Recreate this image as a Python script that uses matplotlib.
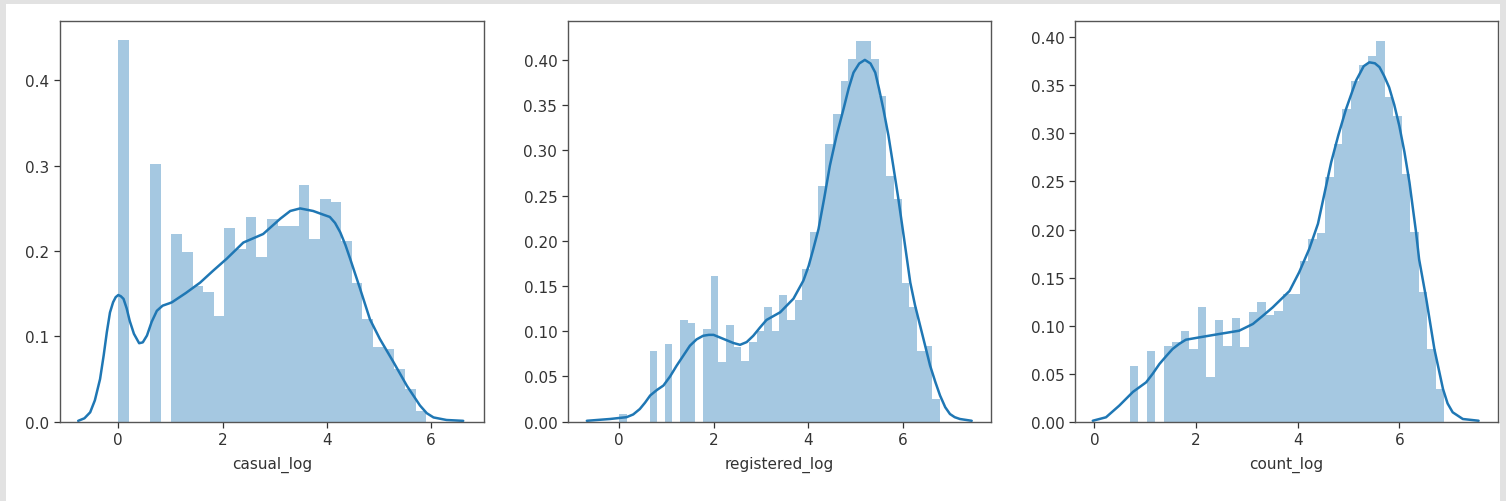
import numpy as np
import matplotlib
matplotlib.use("Agg")
import matplotlib.pyplot as plt
from matplotlib.patches import Rectangle

# ---- histogram densities (one value per bin) ----
casual_range = (0.0, 5.908)
casual_hist = [0.447, 0.0, 0.0, 0.302, 0.0, 0.220, 0.199, 0.159, 0.152, 0.124,
               0.227, 0.2025, 0.240, 0.193, 0.238, 0.229, 0.229, 0.277, 0.214, 0.261,
               0.257, 0.212, 0.163, 0.120, 0.087, 0.085, 0.062, 0.038, 0.012]

registered_range = (0.0, 6.787)
registered_hist = [0.0085, 0.0, 0.0, 0.0, 0.078, 0.0, 0.086, 0.0, 0.1125, 0.109,
                   0.0, 0.1025, 0.1615, 0.066, 0.107, 0.083, 0.0675, 0.088, 0.100, 0.1266,
                   0.100, 0.140, 0.112, 0.135, 0.169, 0.210, 0.261, 0.307, 0.340, 0.377,
                   0.401, 0.421, 0.421, 0.401, 0.3606, 0.272, 0.2463, 0.153, 0.127, 0.0785,
                   0.084, 0.025]

count_range = (0.693, 6.886)
count_hist = [0.0583, 0.0, 0.0733, 0.0, 0.079, 0.0833, 0.094, 0.0757, 0.119, 0.047,
              0.1058, 0.079, 0.108, 0.0774, 0.1138, 0.1249, 0.1113, 0.1155, 0.133, 0.133,
              0.1668, 0.190, 0.196, 0.2543, 0.289, 0.325, 0.355, 0.371, 0.381, 0.3965,
              0.338, 0.318, 0.258, 0.197, 0.1347, 0.0757, 0.034]

# ---- kernel density curves ----
casual_kde_x = [-0.77, -0.65, -0.54, -0.45, -0.35, -0.28, -0.22, -0.16, -0.10, -0.05,
                0.0, 0.05, 0.10, 0.16, 0.22, 0.30, 0.40, 0.47, 0.55, 0.64,
                0.74, 0.85, 0.99, 1.03, 1.30, 1.57, 1.82, 2.08, 2.40, 2.78,
                3.11, 3.30, 3.49, 3.74, 3.92, 4.06, 4.16, 4.26, 4.36, 4.45,
                4.64, 4.83, 5.02, 5.28, 5.54, 5.79, 5.92, 6.05, 6.30, 6.62]
casual_kde_y = [0.001, 0.004, 0.011, 0.025, 0.050, 0.078, 0.105, 0.128, 0.140, 0.146,
                0.1485, 0.147, 0.144, 0.133, 0.118, 0.103, 0.092, 0.093, 0.101, 0.117,
                0.130, 0.136, 0.139, 0.140, 0.151, 0.163, 0.177, 0.191, 0.210, 0.220,
                0.238, 0.247, 0.250, 0.247, 0.243, 0.240, 0.233, 0.222, 0.207, 0.191,
                0.156, 0.120, 0.097, 0.070, 0.042, 0.019, 0.010, 0.005, 0.002, 0.001]

registered_kde_x = [-0.68, -0.19, 0.16, 0.30, 0.44, 0.55, 0.66, 0.80, 0.94, 1.08,
                    1.22, 1.36, 1.50, 1.64, 1.78, 1.90, 2.00, 2.14, 2.28, 2.42,
                    2.56, 2.70, 2.84, 2.98, 3.12, 3.41, 3.69, 3.90, 4.01, 4.11,
                    4.22, 4.34, 4.46, 4.60, 4.75, 4.86, 4.96, 5.08, 5.20, 5.32,
                    5.42, 5.50, 5.59, 5.70, 5.80, 5.91, 6.01, 6.09, 6.16, 6.26,
                    6.37, 6.48, 6.58, 6.69, 6.79, 6.90, 7.00, 7.10, 7.21, 7.46]
registered_kde_y = [0.001, 0.003, 0.005, 0.008, 0.014, 0.021, 0.029, 0.035, 0.040, 0.050,
                    0.062, 0.073, 0.084, 0.091, 0.095, 0.096, 0.096, 0.093, 0.090, 0.087,
                    0.085, 0.088, 0.095, 0.104, 0.1125, 0.121, 0.136, 0.156, 0.172, 0.191,
                    0.213, 0.247, 0.283, 0.316, 0.346, 0.369, 0.386, 0.396, 0.400, 0.396,
                    0.386, 0.368, 0.346, 0.316, 0.283, 0.246, 0.2095, 0.180, 0.154, 0.129,
                    0.106, 0.083, 0.062, 0.044, 0.029, 0.016, 0.0085, 0.005, 0.003, 0.001]

count_kde_x = [-0.03, 0.23, 0.49, 0.76, 1.02, 1.15, 1.28, 1.41, 1.54, 1.67,
               1.80, 2.07, 2.46, 2.85, 3.12, 3.31, 3.51, 3.84, 4.03, 4.23,
               4.40, 4.53, 4.66, 4.80, 4.95, 5.15, 5.30, 5.41, 5.52, 5.61,
               5.70, 5.80, 5.90, 6.00, 6.10, 6.20, 6.33, 6.39, 6.53, 6.69,
               6.86, 6.95, 7.05, 7.25, 7.56]
count_kde_y = [0.001, 0.0046, 0.0167, 0.031, 0.041, 0.050, 0.060, 0.068, 0.0757, 0.081,
               0.0853, 0.0878, 0.0913, 0.0947, 0.1017, 0.110, 0.119, 0.136, 0.1555, 0.180,
               0.206, 0.238, 0.270, 0.298, 0.325, 0.355, 0.370, 0.374, 0.373, 0.369,
               0.360, 0.348, 0.330, 0.308, 0.281, 0.249, 0.197, 0.169, 0.128, 0.0757,
               0.034, 0.019, 0.0098, 0.0028, 0.001]

labels = ["casual_log", "registered_log", "count_log"]
ranges = [casual_range, registered_range, count_range]
hists = [casual_hist, registered_hist, count_hist]
kdes = [(casual_kde_x, casual_kde_y), (registered_kde_x, registered_kde_y),
        (count_kde_x, count_kde_y)]

xlims = [(-1.119, 7.019), (-1.085, 7.868), (-0.38, 7.936)]
ylims = [(0, 0.4697), (0, 0.443), (0, 0.417)]
yticks = [[0.0, 0.1, 0.2, 0.3, 0.4],
          [0.0, 0.05, 0.10, 0.15, 0.20, 0.25, 0.30, 0.35, 0.40],
          [0.0, 0.05, 0.10, 0.15, 0.20, 0.25, 0.30, 0.35, 0.40]]
yfmt = ["{:.1f}", "{:.2f}", "{:.2f}"]
xticks = [0, 2, 4, 6]

W, H = 1506, 502
fig = plt.figure(figsize=(W / 100, H / 100), dpi=100, facecolor="#e2e2e2")
# white page area inside the grey frame
fig.add_artist(Rectangle((6 / W, 0), (1500 - 6) / W, (H - 5) / H,
                         transform=fig.transFigure, facecolor="white",
                         edgecolor="none", zorder=-10))

boxes = [(60, 484), (567.7, 991), (1075, 1497.7)]
top_px, bottom_px = 22, 422.7

blue = "#1f77b4"
for i, (l, r) in enumerate(boxes):
    ax = fig.add_axes([l / W, (H - bottom_px) / H, (r - l) / W,
                       (bottom_px - top_px) / H])
    ax.set_facecolor("white")
    lo, hi = ranges[i]
    n = len(hists[i])
    edges = np.linspace(lo, hi, n + 1)
    ax.bar(edges[:-1], hists[i], width=edges[1] - edges[0], align="edge",
           color=blue, alpha=0.4, linewidth=0)
    kx, ky = kdes[i]
    ax.plot(kx, ky, color=blue, lw=1.8, solid_capstyle="round",
            solid_joinstyle="round")
    ax.set_xlim(*xlims[i])
    ax.set_ylim(*ylims[i])
    ax.set_xticks(xticks)
    ax.set_xticklabels([str(t) for t in xticks])
    ax.set_yticks(yticks[i])
    ax.set_yticklabels([yfmt[i].format(t) for t in yticks[i]])
    ax.tick_params(labelsize=11, colors="#333333", length=4, width=0.9)
    for s in ax.spines.values():
        s.set_color("#555555")
        s.set_linewidth(1.0)
    ax.set_xlabel(labels[i], fontsize=11, color="#333333", labelpad=6)

fig.savefig("out.png", dpi=100, facecolor=fig.get_facecolor())
